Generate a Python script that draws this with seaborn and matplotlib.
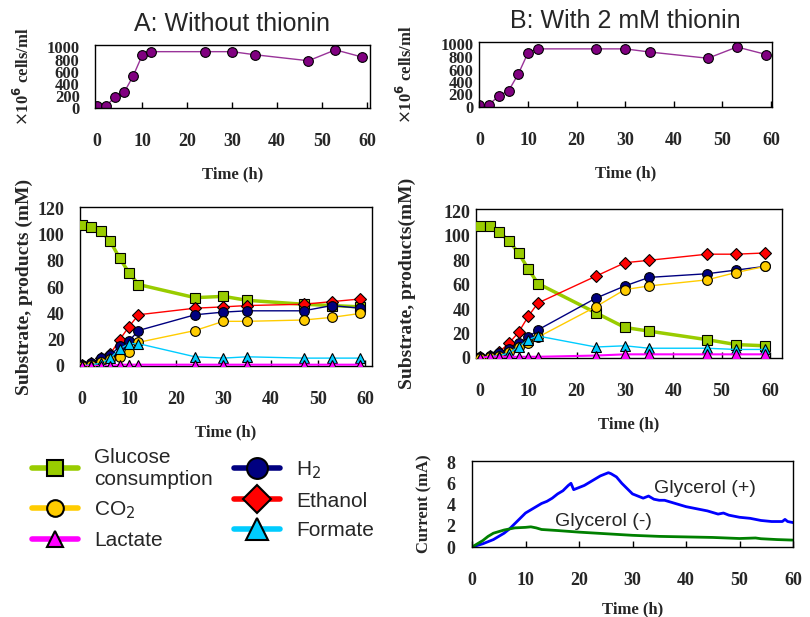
import numpy as np
import pandas as pd
import matplotlib
matplotlib.use("Agg")
import matplotlib.pyplot as plt
import seaborn as sns
from matplotlib.lines import Line2D

sns.set_theme(style="white")
plt.rcParams['font.family'] = ['Liberation Serif', 'DejaVu Serif']

# sampling times (h)
t = [0, 2, 4, 6, 8, 10, 12, 24, 30, 35, 47, 53, 59]

# cell density (x10^6 cells/ml)
cells_a = [30, 40, 180, 260, 530, 870, 930, 930, 930, 880, 780, 960, 840]
cells_b = [30, 40, 180, 260, 530, 870, 930, 930, 930, 880, 780, 960, 840]

# A: without thionin (mM)
glucose_a = [107, 106, 103, 95, 82, 71, 62, 52, 53, 50, 47, 46, 45]
ethanol_a = [1, 2, 6, 9, 20, 30, 39, 44, 45, 46, 47, 49, 51]
h2_a = [1, 2, 6, 8, 15, 19, 27, 39, 41, 42, 42, 46, 44]
co2_a = [0, 1, 3, 5, 7, 11, 18, 27, 34, 34, 35, 37, 40]
formate_a = [0, 1, 2, 6, 13, 17, 17, 7, 6, 7, 6, 6, 6]
lactate_a = [0, 0, 0, 0, 1, 1, 1, 1, 1, 1, 1, 1, 1]

# B: with 2 mM thionin (mM)
glucose_b = [108, 108, 103, 96, 86, 73, 61, 37, 25, 22, 15, 11, 10]
ethanol_b = [1, 2, 5, 12, 21, 34, 45, 67, 78, 80, 85, 85, 86]
h2_b = [1, 2, 4, 7, 12, 17, 23, 49, 59, 66, 69, 72, 75]
co2_b = [0, 1, 2, 5, 9, 12, 17, 42, 56, 59, 64, 70, 75]
formate_b = [0, 1, 2, 4, 9, 15, 18, 9, 10, 8, 8, 7, 7]
lactate_b = [0, 1, 1, 1, 1, 1, 1, 2, 3, 3, 3, 3, 3]

# current (mA)
t_plus = [0, 1, 2, 3, 4, 5, 6, 7, 8, 9, 10, 11, 12, 13, 14, 15, 16, 17, 18, 18.5, 19,
          20, 21, 22, 23, 24, 25, 25.5, 26, 27, 28, 29, 30, 31, 32, 33, 34, 35, 36, 38,
          40, 42, 44, 46, 47, 48, 50, 52, 54, 56, 58, 58.5, 59, 60]
i_plus = [0, 0.15, 0.3, 0.5, 0.7, 1.0, 1.3, 1.7, 2.2, 2.7, 3.2, 3.5, 3.8, 4.1, 4.3, 4.6, 5.0, 5.3, 5.8, 6.0, 5.4,
          5.6, 5.8, 6.1, 6.4, 6.7, 6.9, 7.0, 6.9, 6.6, 6.0, 5.5, 5.0, 4.8, 4.6, 4.8, 4.5, 4.4, 4.4, 4.1,
          3.8, 3.6, 3.4, 3.1, 3.2, 3.0, 2.8, 2.7, 2.5, 2.4, 2.4, 2.6, 2.4, 2.3]
t_minus = [0, 1, 2, 3, 4, 6, 8, 10, 11, 12, 13, 16, 20, 25, 30, 35, 40, 45, 50, 53, 54, 57, 60]
i_minus = [0, 0.3, 0.6, 1.0, 1.3, 1.6, 1.8, 1.85, 1.9, 1.8, 1.65, 1.55, 1.4, 1.25, 1.1, 1.0,
           0.95, 0.9, 0.8, 0.85, 0.78, 0.7, 0.65]

W, H = 810, 617
fig = plt.figure(figsize=(W / 100, H / 100), dpi=100)


def add_ax(l, tp, r, b):
    return fig.add_axes([l / W, 1 - b / H, (r - l) / W, (b - tp) / H])


def style(ax, xlim, ylim, yticks, pad=18, ypad=3):
    ax.set_xlim(*xlim)
    ax.set_ylim(*ylim)
    ax.set_xticks([0, 10, 20, 30, 40, 50, 60])
    ax.set_yticks(yticks)
    ax.tick_params(axis='x', direction='in', length=4, width=1, color='black', pad=pad,
                   labelsize=13, top=False, bottom=True)
    ax.tick_params(axis='y', length=0, pad=ypad, labelsize=13)
    for lab in ax.get_xticklabels() + ax.get_yticklabels():
        lab.set_fontweight('bold')
    for s in ax.spines.values():
        s.set_color('black')
        s.set_linewidth(1)
    ax.grid(False)
    ax.set_xlabel('Time (h)', labelpad=12, fontsize=12, fontweight='bold')


def place_ylabel(ax, x_px):
    # x_px is where the right side of the rotated label should sit
    pos = ax.get_position()
    l = pos.x0 * W
    w = pos.width * W
    ax.yaxis.set_label_coords((x_px - l) / w, 0.5)


# ---- top panels: cell density
for rect, cells, xl, title, ylx, ypad in [((95, 45, 370, 108), cells_a, (-0.5, 60.7), 'A: Without thionin', 33, 11),
                                          ((479, 42, 772, 107), cells_b, (-0.1, 60.2), 'B: With 2 mM thionin', 416, 4)]:
    ax = add_ax(*rect)
    sns.lineplot(x=t, y=cells, ax=ax, color='#993399', lw=1, marker='o', markersize=7,
                 markerfacecolor='#800080', markeredgecolor='black', markeredgewidth=0.8)
    style(ax, xl, (0, 1040), [0, 200, 400, 600, 800, 1000], pad=18, ypad=ypad)
    ax.tick_params(axis='y', labelsize=12)
    ax.set_ylabel(r'$\times$10$^{\mathbf{6}}$ cells/ml', fontsize=12, fontweight='bold')
    place_ylabel(ax, ylx)
    ax.set_title(title, family='Liberation Sans', fontsize=18, pad=10)

# ---- middle panels: substrate and products
series_style = [
    ('glucose', '#99cc00', 's', '#99cc00', 2.5, 7),
    ('ethanol', '#ff0000', 'D', '#ff0000', 1.0, 6),
    ('h2', '#000080', 'o', '#000080', 1.0, 7),
    ('co2', '#ffcc00', 'o', '#ffcc00', 1.0, 7),
    ('formate', '#00ccff', '^', '#00ccff', 1.0, 7),
    ('lactate', '#ff00ff', '^', '#ff00ff', 1.5, 7),
]
data_a = dict(glucose=glucose_a, ethanol=ethanol_a, h2=h2_a, co2=co2_a, formate=formate_a, lactate=lactate_a)
data_b = dict(glucose=glucose_b, ethanol=ethanol_b, h2=h2_b, co2=co2_b, formate=formate_b, lactate=lactate_b)

for rect, data, xl, yl, ylab, ylx, ypad in [((80, 207, 372, 366), data_a, (-0.4, 61.5), (0, 121), 'Substrate, products (mM)', 33, 11),
                                            ((476, 209, 782, 358), data_b, (-0.8, 62.5), (0, 122), 'Substrate, products(mM)', 416, 4)]:
    ax = add_ax(*rect)
    for name, lc, mk, fc, lw, ms in series_style:
        sns.lineplot(x=t, y=data[name], ax=ax, color=lc, lw=lw, marker=mk, markersize=ms,
                     markerfacecolor=fc, markeredgecolor='black', markeredgewidth=0.8, zorder=3)
    style(ax, xl, yl, [0, 20, 40, 60, 80, 100, 120], ypad=ypad)
    ax.set_ylabel(ylab, fontsize=14, fontweight='bold')
    place_ylabel(ax, ylx)

# ---- bottom right: current
ax = add_ax(472, 461, 793, 547)
sns.lineplot(x=t_plus, y=i_plus, ax=ax, color='#0000ff', lw=2)
sns.lineplot(x=t_minus, y=i_minus, ax=ax, color='#008000', lw=2)
style(ax, (0, 60), (0, 8.1), [0, 2, 4, 6, 8], ypad=12)
ax.xaxis.labelpad = 9
ax.set_ylabel('Current (mA)', fontsize=12, fontweight='bold')
place_ylabel(ax, 432)
ax.text(34, 5.1, 'Glycerol (+)', family='Liberation Sans', fontsize=14)
ax.text(15.5, 2.0, 'Glycerol (-)', family='Liberation Sans', fontsize=14)

# ---- legend
handles = []
labels = []
leg_items = [
    ('Glucose\nconsumption', '#99cc00', 's', '#99cc00', 11),
    ('CO$_2$', '#ffcc00', 'o', '#ffcc00', 12),
    ('Lactate', '#ff00ff', '^', '#ff00ff', 12),
    ('H$_2$', '#000080', 'o', '#000080', 15),
    ('Ethanol', '#ff0000', 'D', '#ff0000', 14),
    ('Formate', '#00ccff', '^', '#00ccff', 16),
]
for lab, lc, mk, fc, ms in leg_items:
    handles.append(Line2D([], [], color=lc, lw=4, marker=mk, markersize=ms,
                          markerfacecolor=fc, markeredgecolor='black', markeredgewidth=1.5))
    labels.append(lab)
leg = fig.legend(handles, labels, ncol=2, loc='upper left', bbox_to_anchor=(13 / W, 1 - 429 / H),
                 frameon=False, handlelength=2.2, handletextpad=0.8, columnspacing=1.0,
                 labelspacing=0.5, prop=dict(family='Liberation Sans', size=15))

fig.savefig('out.png', dpi=100)
